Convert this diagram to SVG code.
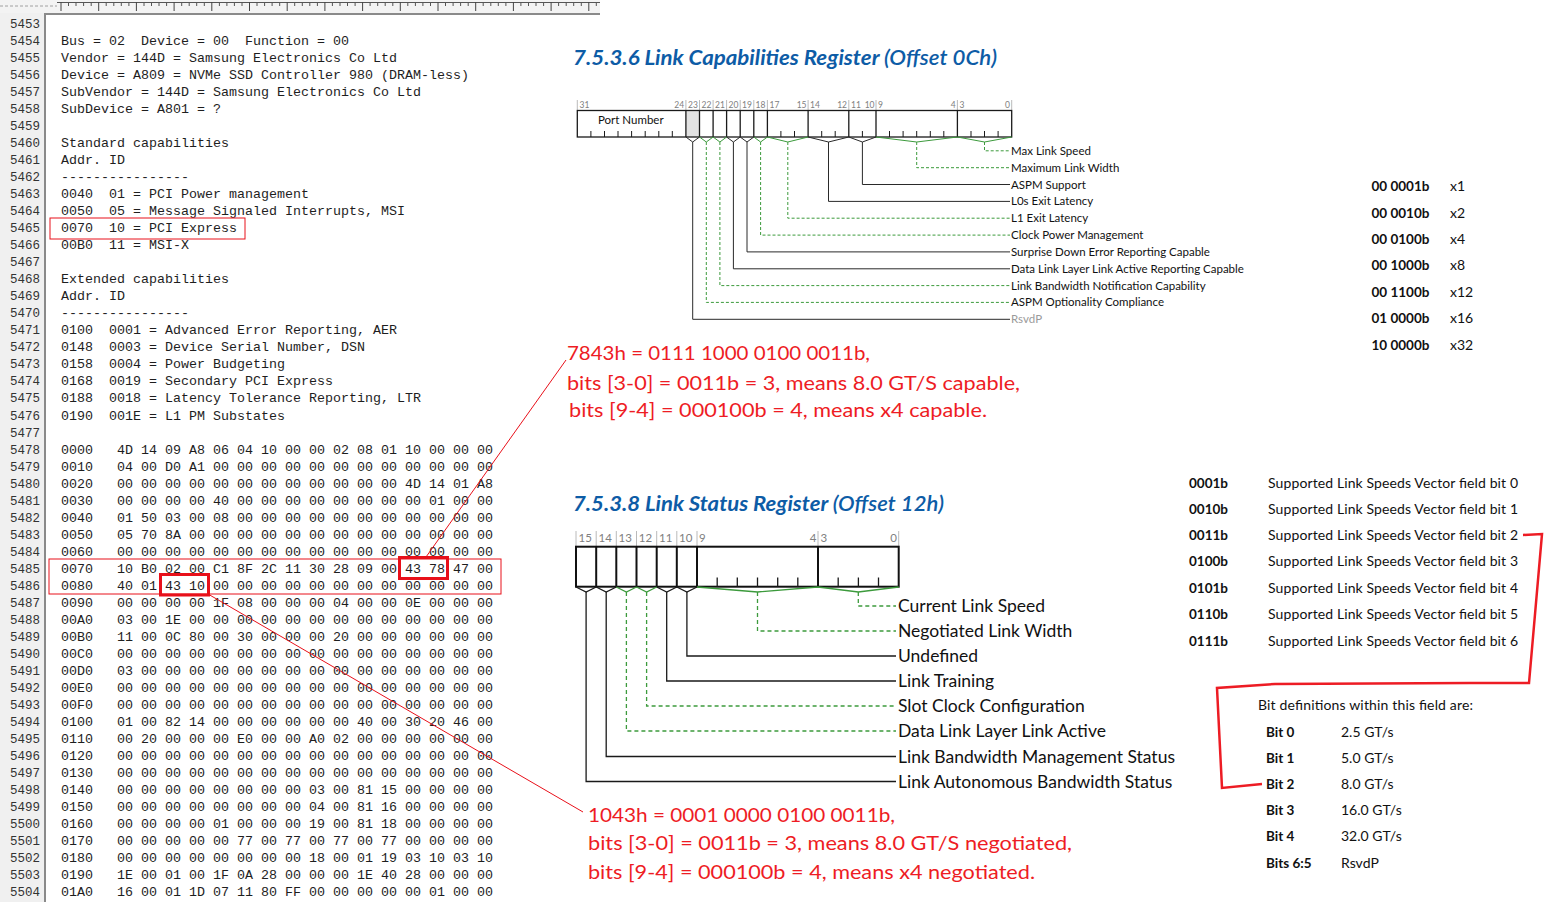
<svg xmlns="http://www.w3.org/2000/svg" width="1559" height="902" viewBox="0 0 1559 902">
<style>
.mono{font-family:"Liberation Mono","DejaVu Sans Mono",monospace;font-size:13.33px;fill:#1e1e1e}
.ln{font-family:"Liberation Mono","DejaVu Sans Mono",monospace;font-size:12.5px;fill:#333;text-anchor:end}
.ttl{font-family:Lato,"Noto Sans",sans-serif;font-style:italic;font-weight:bold;font-size:21px;fill:#0d5ca6}
.bn{font-family:Lato,"Noto Sans",sans-serif;font-size:8.5px;fill:#808080}
.bn2{font-family:Lato,"Noto Sans",sans-serif;font-size:11.5px;fill:#808080}
.lb{font-family:Lato,"Noto Sans",sans-serif;font-size:11.5px;fill:#111}
.lb2{font-family:Lato,"Noto Sans",sans-serif;font-size:17.5px;fill:#111}
.tb{font-family:Lato,"Noto Sans",sans-serif;font-size:14px;fill:#111}
.tbb{font-family:Lato,"Noto Sans",sans-serif;font-size:13.5px;font-weight:bold;fill:#111}
.red{font-family:Lato,"Noto Sans",sans-serif;font-size:19.5px;fill:#ee1c24}
.box{fill:none;stroke:#1a1a1a;stroke-width:1.3}
.box2{fill:none;stroke:#111;stroke-width:2}
.tk{stroke:#1a1a1a;stroke-width:1}
.sep{stroke:#a8a8a8;stroke-width:0.8}
.g{fill:none;stroke:#3c9a3c;stroke-width:1;stroke-dasharray:3 2}
.gv{fill:none;stroke:#3c9a3c;stroke-width:1}
.k{fill:none;stroke:#2a2a2a;stroke-width:1}
.g2{fill:none;stroke:#3c9a3c;stroke-width:1.3;stroke-dasharray:4 3}
.gv2{fill:none;stroke:#3c9a3c;stroke-width:1.3}
.k2{fill:none;stroke:#1a1a1a;stroke-width:1.3}
.rl{fill:none;stroke:#e8101a;stroke-width:1}
.rb{fill:none;stroke:#e8101a;stroke-width:3}
</style>
<rect x="0" y="0" width="1559" height="902" fill="#fff"/>

<g id="editor">
  <rect x="0" y="0" width="600" height="13" fill="#f3f3f3"/>
  <line x1="0" y1="6" x2="57" y2="6" stroke="#a0a0a0" stroke-dasharray="3 2"/>
  <line x1="57" y1="2.5" x2="600" y2="2.5" stroke="#555"/>
  <path d="M61 2V11M98.7 2V11M136.4 2V11M174.1 2V11M211.8 2V11M249.5 2V11M287.2 2V11M324.9 2V11M362.6 2V11M400.3 2V11M438 2V11M475.7 2V11M513.4 2V11M551.1 2V11M588.8 2V11" stroke="#444"/>
  <path d="M68.5 2V6M76 2V6M83.6 2V6M91.2 2V6M106.2 2V6M113.8 2V6M121.3 2V6M128.9 2V6M144 2V6M151.5 2V6M159 2V6M166.6 2V6M181.7 2V6M189.2 2V6M196.7 2V6M204.3 2V6M219.4 2V6M226.9 2V6M234.4 2V6M242 2V6M257 2V6M264.6 2V6M272.1 2V6M279.7 2V6M294.7 2V6M302.3 2V6M309.8 2V6M317.4 2V6M332.4 2V6M340 2V6M347.5 2V6M355.1 2V6M370.1 2V6M377.7 2V6M385.2 2V6M392.8 2V6M407.8 2V6M415.4 2V6M422.9 2V6M430.5 2V6M445.5 2V6M453.1 2V6M460.6 2V6M468.2 2V6M483.2 2V6M490.8 2V6M498.3 2V6M505.9 2V6M520.9 2V6M528.5 2V6M536 2V6M543.6 2V6M558.6 2V6M566.2 2V6M573.7 2V6M581.3 2V6M596.3 2V6" stroke="#555"/>
  <rect x="0" y="13" width="45" height="889" fill="#f0f0f0"/>
  <line x1="45" y1="13" x2="45" y2="902" stroke="#8a8a8a" stroke-width="2"/>
  <line x1="44" y1="14" x2="600" y2="14" stroke="#8a8a8a" stroke-width="2"/>
  <text class="ln">
    <tspan x="40" y="28">5453</tspan><tspan x="40" y="45">5454</tspan><tspan x="40" y="62">5455</tspan><tspan x="40" y="79.1">5456</tspan><tspan x="40" y="96.1">5457</tspan><tspan x="40" y="113.1">5458</tspan><tspan x="40" y="130.1">5459</tspan><tspan x="40" y="147.1">5460</tspan><tspan x="40" y="164.2">5461</tspan><tspan x="40" y="181.2">5462</tspan><tspan x="40" y="198.2">5463</tspan><tspan x="40" y="215.2">5464</tspan><tspan x="40" y="232.2">5465</tspan><tspan x="40" y="249.3">5466</tspan><tspan x="40" y="266.3">5467</tspan><tspan x="40" y="283.3">5468</tspan><tspan x="40" y="300.3">5469</tspan><tspan x="40" y="317.3">5470</tspan><tspan x="40" y="334.4">5471</tspan><tspan x="40" y="351.4">5472</tspan><tspan x="40" y="368.4">5473</tspan><tspan x="40" y="385.4">5474</tspan><tspan x="40" y="402.4">5475</tspan><tspan x="40" y="419.5">5476</tspan><tspan x="40" y="436.5">5477</tspan><tspan x="40" y="453.5">5478</tspan><tspan x="40" y="470.5">5479</tspan><tspan x="40" y="487.5">5480</tspan><tspan x="40" y="504.6">5481</tspan><tspan x="40" y="521.6">5482</tspan><tspan x="40" y="538.6">5483</tspan><tspan x="40" y="555.6">5484</tspan><tspan x="40" y="572.6">5485</tspan><tspan x="40" y="589.7">5486</tspan><tspan x="40" y="606.7">5487</tspan><tspan x="40" y="623.7">5488</tspan><tspan x="40" y="640.7">5489</tspan><tspan x="40" y="657.7">5490</tspan><tspan x="40" y="674.8">5491</tspan><tspan x="40" y="691.8">5492</tspan><tspan x="40" y="708.8">5493</tspan><tspan x="40" y="725.8">5494</tspan><tspan x="40" y="742.8">5495</tspan><tspan x="40" y="759.9">5496</tspan><tspan x="40" y="776.9">5497</tspan><tspan x="40" y="793.9">5498</tspan><tspan x="40" y="810.9">5499</tspan><tspan x="40" y="827.9">5500</tspan><tspan x="40" y="845">5501</tspan><tspan x="40" y="862">5502</tspan><tspan x="40" y="879">5503</tspan><tspan x="40" y="896">5504</tspan>
  </text>
  <text class="mono" xml:space="preserve"><tspan x="61" y="45">Bus = 02  Device = 00  Function = 00</tspan><tspan x="61" y="62">Vendor = 144D = Samsung Electronics Co Ltd</tspan><tspan x="61" y="79.1">Device = A809 = NVMe SSD Controller 980 (DRAM-less)</tspan><tspan x="61" y="96.1">SubVendor = 144D = Samsung Electronics Co Ltd</tspan><tspan x="61" y="113.1">SubDevice = A801 = ?</tspan><tspan x="61" y="147.1">Standard capabilities</tspan><tspan x="61" y="164.2">Addr. ID</tspan><tspan x="61" y="181.2">----------------</tspan><tspan x="61" y="198.2">0040  01 = PCI Power management</tspan><tspan x="61" y="215.2">0050  05 = Message Signaled Interrupts, MSI</tspan><tspan x="61" y="232.2">0070  10 = PCI Express</tspan><tspan x="61" y="249.3">00B0  11 = MSI-X</tspan><tspan x="61" y="283.3">Extended capabilities</tspan><tspan x="61" y="300.3">Addr. ID</tspan><tspan x="61" y="317.3">----------------</tspan><tspan x="61" y="334.4">0100  0001 = Advanced Error Reporting, AER</tspan><tspan x="61" y="351.4">0148  0003 = Device Serial Number, DSN</tspan><tspan x="61" y="368.4">0158  0004 = Power Budgeting</tspan><tspan x="61" y="385.4">0168  0019 = Secondary PCI Express</tspan><tspan x="61" y="402.4">0188  0018 = Latency Tolerance Reporting, LTR</tspan><tspan x="61" y="419.5">0190  001E = L1 PM Substates</tspan><tspan x="61" y="453.5">0000   4D 14 09 A8 06 04 10 00 00 02 08 01 10 00 00 00</tspan><tspan x="61" y="470.5">0010   04 00 D0 A1 00 00 00 00 00 00 00 00 00 00 00 00</tspan><tspan x="61" y="487.5">0020   00 00 00 00 00 00 00 00 00 00 00 00 4D 14 01 A8</tspan><tspan x="61" y="504.6">0030   00 00 00 00 40 00 00 00 00 00 00 00 00 01 00 00</tspan><tspan x="61" y="521.6">0040   01 50 03 00 08 00 00 00 00 00 00 00 00 00 00 00</tspan><tspan x="61" y="538.6">0050   05 70 8A 00 00 00 00 00 00 00 00 00 00 00 00 00</tspan><tspan x="61" y="555.6">0060   00 00 00 00 00 00 00 00 00 00 00 00 00 00 00 00</tspan><tspan x="61" y="572.6">0070   10 B0 02 00 C1 8F 2C 11 30 28 09 00 43 78 47 00</tspan><tspan x="61" y="589.7">0080   40 01 43 10 00 00 00 00 00 00 00 00 00 00 00 00</tspan><tspan x="61" y="606.7">0090   00 00 00 00 1F 08 00 00 00 04 00 00 0E 00 00 00</tspan><tspan x="61" y="623.7">00A0   03 00 1E 00 00 00 00 00 00 00 00 00 00 00 00 00</tspan><tspan x="61" y="640.7">00B0   11 00 0C 80 00 30 00 00 00 20 00 00 00 00 00 00</tspan><tspan x="61" y="657.7">00C0   00 00 00 00 00 00 00 00 00 00 00 00 00 00 00 00</tspan><tspan x="61" y="674.8">00D0   03 00 00 00 00 00 00 00 00 00 00 00 00 00 00 00</tspan><tspan x="61" y="691.8">00E0   00 00 00 00 00 00 00 00 00 00 00 00 00 00 00 00</tspan><tspan x="61" y="708.8">00F0   00 00 00 00 00 00 00 00 00 00 00 00 00 00 00 00</tspan><tspan x="61" y="725.8">0100   01 00 82 14 00 00 00 00 00 00 40 00 30 20 46 00</tspan><tspan x="61" y="742.8">0110   00 20 00 00 00 E0 00 00 A0 02 00 00 00 00 00 00</tspan><tspan x="61" y="759.9">0120   00 00 00 00 00 00 00 00 00 00 00 00 00 00 00 00</tspan><tspan x="61" y="776.9">0130   00 00 00 00 00 00 00 00 00 00 00 00 00 00 00 00</tspan><tspan x="61" y="793.9">0140   00 00 00 00 00 00 00 00 03 00 81 15 00 00 00 00</tspan><tspan x="61" y="810.9">0150   00 00 00 00 00 00 00 00 04 00 81 16 00 00 00 00</tspan><tspan x="61" y="827.9">0160   00 00 00 00 01 00 00 00 19 00 81 18 00 00 00 00</tspan><tspan x="61" y="845">0170   00 00 00 00 00 77 00 77 00 77 00 77 00 00 00 00</tspan><tspan x="61" y="862">0180   00 00 00 00 00 00 00 00 18 00 01 19 03 10 03 10</tspan><tspan x="61" y="879">0190   1E 00 01 00 1F 0A 28 00 00 00 1E 40 28 00 00 00</tspan><tspan x="61" y="896">01A0   16 00 01 1D 07 11 80 FF 00 00 00 00 00 01 00 00</tspan></text>
  <rect class="rl" x="50" y="218" width="195" height="21"/>
  <rect class="rl" x="49" y="559" width="452" height="35"/>
  <rect class="rb" x="399.5" y="557.5" width="48" height="21"/>
  <rect class="rb" x="160.5" y="574.5" width="48" height="20.5"/>
</g>

<g id="link-cap">
  <text class="ttl" x="573" y="65" textLength="424" lengthAdjust="spacingAndGlyphs">7.5.3.6 Link Capabilities Register <tspan font-weight="600">(Offset 0Ch)</tspan></text>
  <path class="sep" d="M577.3 100V110M685.9 100V110M699.5 100V110M713.1 100V110M726.6 100V110M740.2 100V110M753.8 100V110M767.4 100V110M808.1 100V110M848.8 100V110M876 100V110M957.4 100V110M1011.7 100V110"/>
  <text class="bn" y="108"><tspan x="579.5">31</tspan><tspan x="688">23</tspan><tspan x="701.5">22</tspan><tspan x="715">21</tspan><tspan x="728.5">20</tspan><tspan x="742">19</tspan><tspan x="755.5">18</tspan><tspan x="769.5">17</tspan><tspan x="810">14</tspan><tspan x="851">11</tspan><tspan x="878">9</tspan><tspan x="959.5">3</tspan></text>
  <text class="bn" y="108" text-anchor="end"><tspan x="684.2">24</tspan><tspan x="806.5">15</tspan><tspan x="847">12</tspan><tspan x="874.5">10</tspan><tspan x="955.8">4</tspan><tspan x="1010">0</tspan></text>
  <rect x="685.9" y="110.5" width="13.6" height="26.5" fill="#e2e2e2"/>
  <rect class="box" x="577.3" y="110.5" width="434.4" height="26.5"/>
  <path class="box" d="M685.9 110.5V137M699.5 110.5V137M713.1 110.5V137M726.6 110.5V137M740.2 110.5V137M753.8 110.5V137M767.4 110.5V137M808.1 110.5V137M848.8 110.5V137M876 110.5V137M957.4 110.5V137"/>
  <path class="tk" d="M590.9 131V137M604.5 131V137M618 131V137M631.6 131V137M645.2 131V137M658.8 131V137M672.3 131V137M780.9 131V137M794.5 131V137M821.7 131V137M835.2 131V137M862.4 131V137M889.5 131V137M903.1 131V137M916.7 131V137M930.3 131V137M943.8 131V137M971 131V137M984.5 131V137M998.1 131V137"/>
  <text class="bn" x="598" y="124" style="font-size:11.5px;fill:#111">Port Number</text>
  <path class="k" d="M685.9 137L692.7 142L699.5 137M726.6 137L733.4 142L740.2 137M740.2 137L747 142L753.8 137M808.1 137L828.5 142L848.8 137M848.8 137L862.4 142L876 137"/>
  <path class="gv" d="M699.5 137L706.3 142L713.1 137M713.1 137L719.9 142L726.6 137M753.8 137L760.6 142L767.4 137M767.4 137L787.8 142L808.1 137M876 137L916.7 142L957.4 137M957.4 137L984.5 142L1011.7 137"/>
</g>

<g id="link-cap-fields">
  <path class="g" d="M984.5 142V150.8H1010"/>
  <path class="g" d="M916.7 142V167.7H1010"/>
  <path class="k" d="M862.4 142V184.5H1010"/>
  <path class="k" d="M828.5 142V201.4H1010"/>
  <path class="g" d="M787.8 142V218.2H1010"/>
  <path class="g" d="M760.6 142V235.1H1010"/>
  <path class="k" d="M747 142V251.9H1010" stroke="#444"/>
  <path class="k" d="M733.4 142V268.8H1010" stroke="#444"/>
  <path class="g" d="M719.9 142V285.6H1010"/>
  <path class="g" d="M706.3 142V302.4H1010"/>
  <path class="k" d="M692.7 142V319.3H1010" stroke="#444"/>
  <text class="lb" x="1011" y="154.8">Max Link Speed</text>
  <text class="lb" x="1011" y="171.7">Maximum Link Width</text>
  <text class="lb" x="1011" y="188.5">ASPM Support</text>
  <text class="lb" x="1011" y="205.4">L0s Exit Latency</text>
  <text class="lb" x="1011" y="222.2">L1 Exit Latency</text>
  <text class="lb" x="1011" y="239.1">Clock Power Management</text>
  <text class="lb" x="1011" y="255.9">Surprise Down Error Reporting Capable</text>
  <text class="lb" x="1011" y="272.8">Data Link Layer Link Active Reporting Capable</text>
  <text class="lb" x="1011" y="289.6">Link Bandwidth Notification Capability</text>
  <text class="lb" x="1011" y="306.4">ASPM Optionality Compliance</text>
  <text class="lb" x="1011" y="323.3" style="fill:#9a9a9a">RsvdP</text>
</g>

<g id="width-table">
  <text class="tbb" x="1371.5" y="191">00 0001b</text><text class="tb" x="1450" y="191">x1</text>
  <text class="tbb" x="1371.5" y="217.5">00 0010b</text><text class="tb" x="1450" y="217.5">x2</text>
  <text class="tbb" x="1371.5" y="243.8">00 0100b</text><text class="tb" x="1450" y="243.8">x4</text>
  <text class="tbb" x="1371.5" y="270.3">00 1000b</text><text class="tb" x="1450" y="270.3">x8</text>
  <text class="tbb" x="1371.5" y="297">00 1100b</text><text class="tb" x="1450" y="297">x12</text>
  <text class="tbb" x="1371.5" y="323.3">01 0000b</text><text class="tb" x="1450" y="323.3">x16</text>
  <text class="tbb" x="1371.5" y="349.5">10 0000b</text><text class="tb" x="1450" y="349.5">x32</text>
</g>

<g id="note-cap">
  <text class="red" x="567" y="360" textLength="303" lengthAdjust="spacingAndGlyphs">7843h = 0111 1000 0100 0011b,</text>
  <text class="red" x="567" y="390" textLength="453" lengthAdjust="spacingAndGlyphs">bits [3-0] = 0011b = 3, means 8.0 GT/S capable,</text>
  <text class="red" x="569" y="417" textLength="418" lengthAdjust="spacingAndGlyphs">bits [9-4] = 000100b = 4, means x4 capable.</text>
</g>

<g id="link-status">
  <text class="ttl" x="573" y="511" textLength="371" lengthAdjust="spacingAndGlyphs">7.5.3.8 Link Status Register <tspan font-weight="600">(Offset 12h)</tspan></text>
  <path class="sep" d="M576 531V546.7M596.2 531V546.7M616.3 531V546.7M636.5 531V546.7M656.7 531V546.7M676.8 531V546.7M697 531V546.7M818 531V546.7M898.7 531V546.7"/>
  <text class="bn2" y="541.5"><tspan x="578.5">15</tspan><tspan x="598.5">14</tspan><tspan x="618.5">13</tspan><tspan x="638.8">12</tspan><tspan x="659">11</tspan><tspan x="679">10</tspan><tspan x="699">9</tspan><tspan x="820.5">3</tspan></text>
  <text class="bn2" y="541.5" text-anchor="end"><tspan x="816.3">4</tspan><tspan x="896.8">0</tspan></text>
  <rect class="box2" x="576" y="546.7" width="322.7" height="40"/>
  <path class="box2" d="M596.2 546.7V586.7M616.3 546.7V586.7M636.5 546.7V586.7M656.7 546.7V586.7M676.8 546.7V586.7M697 546.7V586.7M818 546.7V586.7"/>
  <path class="k2" d="M717.2 577.5V586.7M737.3 577.5V586.7M757.5 577.5V586.7M777.7 577.5V586.7M797.8 577.5V586.7M838.2 577.5V586.7M858.4 577.5V586.7M878.5 577.5V586.7"/>
  <path class="k2" d="M576 587L586.1 592L596.2 587M596.2 587L606.2 592L616.3 587M656.7 587L666.7 592L676.8 587M676.8 587L686.9 592L697 587"/>
  <path class="gv2" d="M616.3 587L626.4 592L636.5 587M636.5 587L646.6 592L656.7 587M697 587L757.5 592L818 587M818 587L858.3 592L898.7 587"/>
</g>

<g id="link-status-fields">
  <path class="g2" d="M858.3 592V606H896"/>
  <path class="g2" d="M757.5 592V631H896"/>
  <path class="k2" d="M686.9 592V656H896"/>
  <path class="k2" d="M666.7 592V681H896"/>
  <path class="g2" d="M646.6 592V706H896"/>
  <path class="g2" d="M626.4 592V731H896"/>
  <path class="k2" d="M606.2 592V756.5H896"/>
  <path class="k2" d="M586.1 592V781.5H896"/>
  <text class="lb2" x="898" y="612">Current Link Speed</text>
  <text class="lb2" x="898" y="637">Negotiated Link Width</text>
  <text class="lb2" x="898" y="662">Undefined</text>
  <text class="lb2" x="898" y="687">Link Training</text>
  <text class="lb2" x="898" y="712">Slot Clock Configuration</text>
  <text class="lb2" x="898" y="737">Data Link Layer Link Active</text>
  <text class="lb2" x="898" y="762.5">Link Bandwidth Management Status</text>
  <text class="lb2" x="898" y="787.5">Link Autonomous Bandwidth Status</text>
</g>

<g id="speed-table">
  <text class="tbb" x="1189" y="487.5">0001b</text><text class="tb" x="1268" y="487.5" textLength="250">Supported Link Speeds Vector field bit 0</text>
  <text class="tbb" x="1189" y="513.5">0010b</text><text class="tb" x="1268" y="513.5" textLength="250">Supported Link Speeds Vector field bit 1</text>
  <text class="tbb" x="1189" y="539.5">0011b</text><text class="tb" x="1268" y="539.5" textLength="250">Supported Link Speeds Vector field bit 2</text>
  <text class="tbb" x="1189" y="566">0100b</text><text class="tb" x="1268" y="566" textLength="250">Supported Link Speeds Vector field bit 3</text>
  <text class="tbb" x="1189" y="592.5">0101b</text><text class="tb" x="1268" y="592.5" textLength="250">Supported Link Speeds Vector field bit 4</text>
  <text class="tbb" x="1189" y="619">0110b</text><text class="tb" x="1268" y="619" textLength="250">Supported Link Speeds Vector field bit 5</text>
  <text class="tbb" x="1189" y="645.5">0111b</text><text class="tb" x="1268" y="645.5" textLength="250">Supported Link Speeds Vector field bit 6</text>
</g>

<g id="bit-def-table">
  <text class="tb" x="1258" y="710" textLength="215">Bit definitions within this field are:</text>
  <text class="tbb" x="1266" y="736.5">Bit 0</text><text class="tb" x="1341" y="736.5">2.5 GT/s</text>
  <text class="tbb" x="1266" y="762.5">Bit 1</text><text class="tb" x="1341" y="762.5">5.0 GT/s</text>
  <text class="tbb" x="1266" y="789">Bit 2</text><text class="tb" x="1341" y="789">8.0 GT/s</text>
  <text class="tbb" x="1266" y="815">Bit 3</text><text class="tb" x="1341" y="815">16.0 GT/s</text>
  <text class="tbb" x="1266" y="841">Bit 4</text><text class="tb" x="1341" y="841">32.0 GT/s</text>
  <text class="tbb" x="1266" y="868">Bits 6:5</text><text class="tb" x="1341" y="868">RsvdP</text>
</g>

<g id="note-status">
  <text class="red" x="588" y="822" textLength="307" lengthAdjust="spacingAndGlyphs">1043h = 0001 0000 0100 0011b,</text>
  <text class="red" x="588" y="850" textLength="484" lengthAdjust="spacingAndGlyphs">bits [3-0] = 0011b = 3, means 8.0 GT/S negotiated,</text>
  <text class="red" x="588" y="879" textLength="447" lengthAdjust="spacingAndGlyphs">bits [9-4] = 000100b = 4, means x4 negotiated.</text>
</g>

<g id="connectors">
  <line class="rl" x1="426" y1="557" x2="566" y2="360"/>
  <line class="rl" x1="208" y1="594" x2="583" y2="812"/>
  <polyline points="1523,535 1542,534 1529,683 1470,683 1275,684 1217,688 1222,788 1262,784" fill="none" stroke="#ed1c24" stroke-width="2.5" stroke-linejoin="miter"/>
</g>
</svg>
